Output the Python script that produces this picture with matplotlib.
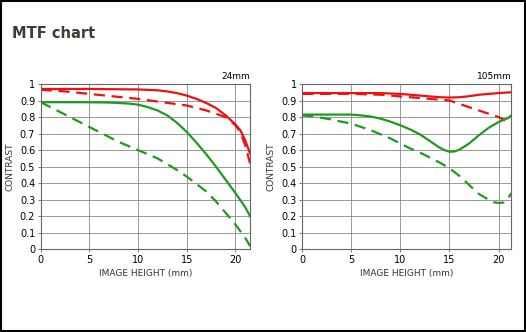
import matplotlib.pyplot as plt
from matplotlib.patches import Rectangle

# image height (mm) sample points
x_24_rs = [0, 5, 10, 12, 13, 14, 15, 16, 17, 18, 19, 20, 20.5, 21, 21.5]
y_24_rs = [0.97, 0.97, 0.967, 0.962, 0.955, 0.945, 0.93, 0.91, 0.885, 0.855, 0.81, 0.755, 0.72, 0.66, 0.58]
x_24_rd = [0, 2.5, 5, 7.5, 10, 12.5, 15, 17, 18, 19, 20, 20.5, 21, 21.5]
y_24_rd = [0.965, 0.955, 0.94, 0.925, 0.91, 0.89, 0.87, 0.84, 0.82, 0.8, 0.75, 0.71, 0.63, 0.52]
x_24_gs = [0, 4, 7, 9, 10, 11, 12, 13, 14, 15, 16, 17, 18, 19, 20, 21, 21.5]
y_24_gs = [0.89, 0.89, 0.888, 0.882, 0.875, 0.86, 0.84, 0.81, 0.765, 0.71, 0.645, 0.575, 0.5, 0.42, 0.34, 0.255, 0.2]
x_24_gd = [0, 1, 2, 3, 4, 5, 6, 7, 8, 9, 10, 11, 12, 13, 14, 15, 16, 17, 18, 19, 20, 21, 21.5]
y_24_gd = [0.89, 0.86, 0.83, 0.8, 0.77, 0.74, 0.71, 0.68, 0.65, 0.625, 0.6, 0.575, 0.55, 0.515, 0.48,
           0.44, 0.395, 0.35, 0.29, 0.22, 0.15, 0.07, 0.02]

x_105_rs = [0, 5, 8, 10, 11, 12, 13, 14, 15, 16, 17, 18, 19, 20, 21.3]
y_105_rs = [0.945, 0.945, 0.945, 0.94, 0.935, 0.93, 0.925, 0.92, 0.918, 0.92, 0.926, 0.935, 0.94, 0.945, 0.95]
x_105_rd = [0, 5, 8, 10, 12, 14, 15, 16, 17, 18, 19, 20, 21.3]
y_105_rd = [0.94, 0.94, 0.935, 0.925, 0.915, 0.905, 0.9, 0.88, 0.86, 0.84, 0.82, 0.8, 0.76]
x_105_gs = [0, 5, 6, 7, 8, 9, 10, 11, 12, 13, 14, 14.5, 15, 15.5, 16, 17, 18, 19, 20, 21, 21.3]
y_105_gs = [0.815, 0.815, 0.81, 0.803, 0.79, 0.772, 0.75, 0.725, 0.695, 0.655, 0.615, 0.6, 0.59, 0.592,
            0.602, 0.64, 0.69, 0.735, 0.77, 0.795, 0.81]
x_105_gd = [0, 1, 2, 3, 4, 5, 6, 7, 8, 9, 10, 11, 12, 13, 14, 15, 16, 17, 18, 19, 19.5, 20, 20.5, 21, 21.3]
y_105_gd = [0.81, 0.805, 0.795, 0.785, 0.772, 0.76, 0.74, 0.72, 0.695, 0.67, 0.64, 0.61, 0.585, 0.555,
            0.525, 0.49, 0.445, 0.39, 0.335, 0.3, 0.285, 0.28, 0.283, 0.31, 0.34]

RED = '#ee1111'
GREEN = '#1f9a1f'

fig = plt.figure(figsize=(5.26, 3.32), dpi=100)
fig.patches.append(Rectangle((0.002, 0.003), 0.996, 0.994, transform=fig.transFigure,
                             fill=False, edgecolor='black', linewidth=1.5))
fig.text(0.023, 0.885, 'MTF chart', fontsize=10.5, fontweight='bold', color='#443a32')


def panel(rect, xmax, name, curves):
    ax = fig.add_axes(rect)
    for xs, ys, color, ls in curves:
        if ls == '--':
            ax.plot(xs, ys, color=color, lw=1.6, dashes=(5, 3), solid_joinstyle='round')
        else:
            ax.plot(xs, ys, color=color, lw=1.6, solid_joinstyle='round')
    ax.set_xlim(0, xmax)
    ax.set_ylim(0, 1)
    ax.set_xticks([0, 5, 10, 15, 20])
    ax.set_yticks([i / 10 for i in range(11)])
    ax.set_yticklabels(['0', '0.1', '0.2', '0.3', '0.4', '0.5', '0.6', '0.7', '0.8', '0.9', '1'])
    ax.grid(True, color='#888888', linewidth=0.6)
    ax.set_axisbelow(True)
    for s in ax.spines.values():
        s.set_color('#666666')
        s.set_linewidth(0.8)
    ax.tick_params(length=2, width=0.6, color='#666666', labelsize=7, pad=2)
    ax.set_xlabel('IMAGE HEIGHT (mm)', fontsize=6.5, color='#333333', labelpad=3)
    ax.set_ylabel('CONTRAST', fontsize=6.5, color='#333333', labelpad=4)
    ax.text(1.0, 1.02, name, transform=ax.transAxes, ha='right', va='bottom', fontsize=6.5)
    return ax


panel([0.0774, 0.249, 0.398, 0.498], 21.5, '24mm', [
    (x_24_rs, y_24_rs, RED, '-'),
    (x_24_rd, y_24_rd, RED, '--'),
    (x_24_gs, y_24_gs, GREEN, '-'),
    (x_24_gd, y_24_gd, GREEN, '--'),
])
panel([0.5747, 0.249, 0.3973, 0.498], 21.3, '105mm', [
    (x_105_rs, y_105_rs, RED, '-'),
    (x_105_rd, y_105_rd, RED, '--'),
    (x_105_gs, y_105_gs, GREEN, '-'),
    (x_105_gd, y_105_gd, GREEN, '--'),
])

plt.savefig('out.png', dpi=100)
